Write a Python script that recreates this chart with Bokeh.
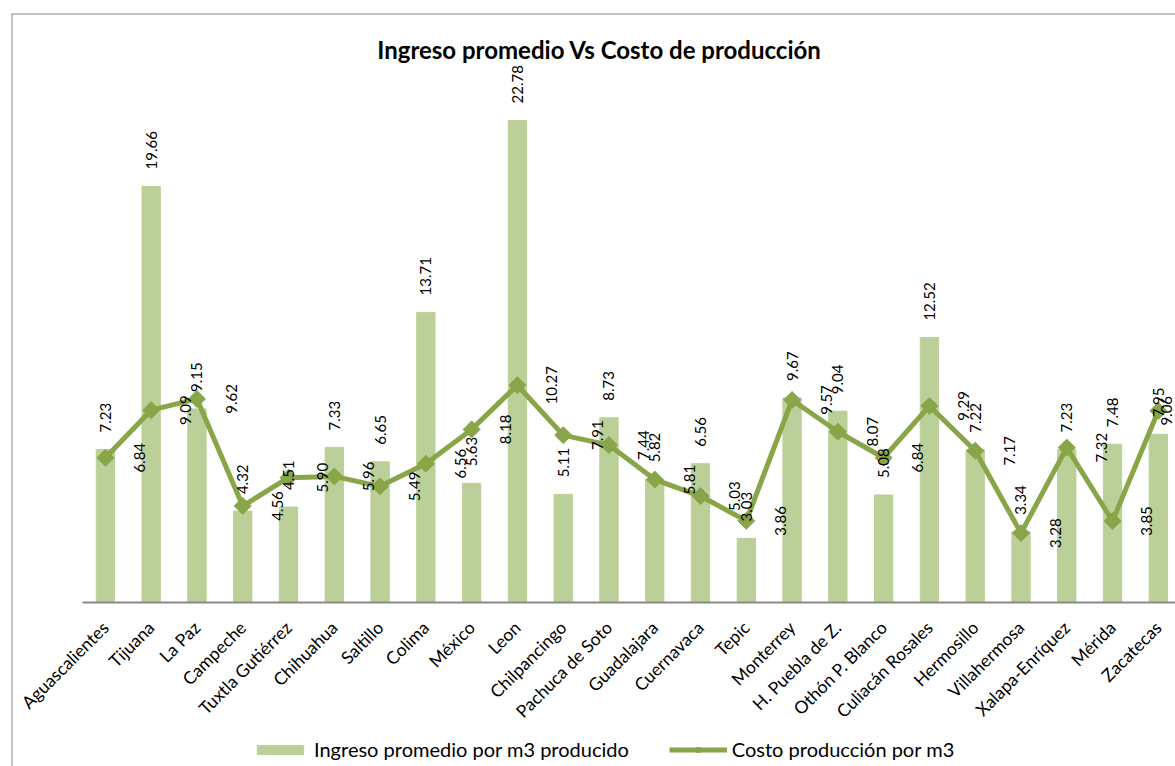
import math
from bokeh.plotting import figure
from bokeh.models import Range1d, Span, Label, Legend, LegendItem, ColumnDataSource
from bokeh.core.properties import value
from bokeh.embed import file_html
from bokeh.resources import INLINE

categories = ["Aguascalientes", "Tijuana", "La Paz", "Campeche", "Tuxtla Gutiérrez",
              "Chihuahua", "Saltillo", "Colima", "México", "Leon", "Chilpancingo",
              "Pachuca de Soto", "Guadalajara", "Cuernavaca", "Tepic", "Monterrey",
              "H. Puebla de Z.", "Othón P. Blanco", "Culiacán Rosales", "Hermosillo",
              "Villahermosa", "Xalapa-Enríquez", "Mérida", "Zacatecas"]
ingreso = [7.23, 19.66, 9.15, 4.32, 4.51, 7.33, 6.65, 13.71, 5.63, 22.78, 5.11, 8.73,
           5.82, 6.56, 3.03, 9.67, 9.04, 5.08, 12.52, 7.22, 3.34, 7.23, 7.48, 7.95]
costo = [6.84, 9.09, 9.62, 4.56, 5.90, 5.96, 5.49, 6.56, 8.18, 10.27, 7.91, 7.44,
         5.81, 5.03, 3.86, 9.57, 8.07, 6.84, 9.29, 7.17, 3.28, 7.32, 3.85, 9.06]

title_text = "Ingreso promedio Vs Costo de producción"
serie_barras = "Ingreso promedio por m3 producido"
serie_linea = "Costo producción por m3"

# ---- layout constants (page pixels; the page renders the figure at 0,0) ----
W, H = 1175, 766
PAGE_OFF = 0
FRAME_L, FRAME_T = 11, 13          # page coords of frame top-left
FRAME_R, FRAME_B = PAGE_OFF + W, PAGE_OFF + H
CAT_PX = 45.78                      # pixels per category
X0_PAGE = 82                        # page x where the first category starts
BASE_PAGE = 602                     # page y of the baseline (value 0)
UNIT_PX = 21.16                     # pixels per value unit

BAR_COLOR = "#BBD098"
LINE_COLOR = "#88A548"
BORDER = "#878787"
FONT_NAME = "Lato"
FONT = value(FONT_NAME)

def dx(page_x):
    return (page_x - X0_PAGE) / CAT_PX

def dy(page_y):
    return (BASE_PAGE - page_y) / UNIT_PX

x_range = Range1d(dx(FRAME_L), dx(FRAME_R))
y_range = Range1d(dy(FRAME_B), dy(FRAME_T))

p = figure(width=W, height=H, x_range=x_range, y_range=y_range,
           x_axis_location=None, y_axis_location=None,
           toolbar_location=None, output_backend="svg",
           min_border_left=FRAME_L - PAGE_OFF, min_border_top=FRAME_T - PAGE_OFF,
           min_border_right=0, min_border_bottom=0)
p.title.visible = False
p.outline_line_color = None
p.background_fill_color = "white"
p.border_fill_color = "white"
p.xgrid.visible = False
p.ygrid.visible = False

n = len(categories)
xs = [i + 0.5 for i in range(n)]
label_x_max = x_range.end - 9 / CAT_PX
src = ColumnDataSource(dict(
    x=xs, cat=categories, ingreso=ingreso, costo=costo,
    ing_lbl=[f"{v:.2f}" for v in ingreso],
    cos_lbl=[f"{v:.2f}" for v in costo],
    cos_x=[min(x + 0.75, label_x_max) for x in xs],
    zero=[0] * n,
))

# frame borders (left and top)
p.add_layout(Span(location=x_range.start, dimension="height", line_color=BORDER, line_width=2))
p.add_layout(Span(location=y_range.end, dimension="width", line_color=BORDER, line_width=2))

# bars
bars = p.vbar(x="x", top="ingreso", width=0.4, source=src,
              fill_color=BAR_COLOR, line_color=BAR_COLOR)

# baseline (category axis line)
p.segment(x0=0, y0=0, x1=n, y1=0, line_color="#898989", line_width=2)

# cost line with diamond markers
line = p.line(x="x", y="costo", source=src, line_color=LINE_COLOR, line_width=5)
dots = p.scatter(x="x", y="costo", source=src, marker="square", angle=math.pi / 4,
                 size=12, fill_color=LINE_COLOR, line_color=LINE_COLOR)

# data labels
p.text(x="x", y="ingreso", text="ing_lbl", source=src, angle=math.pi / 2,
       text_align="left", text_baseline="middle", y_offset=-17,
       text_font=FONT, text_font_size="15px", text_color="black")
p.text(x="cos_x", y="costo", text="cos_lbl", source=src, angle=math.pi / 2,
       text_align="center", text_baseline="middle",
       text_font=FONT, text_font_size="15px", text_color="black")

# category labels
p.text(x="x", y="zero", text="cat", source=src, angle=math.pi / 4,
       text_align="right", text_baseline="middle", x_offset=0, y_offset=22,
       text_font=FONT, text_font_size="17.5px", text_color="black")

# title
p.add_layout(Label(x=dx(599), y=dy(49), text=title_text, text_align="center",
                   text_baseline="middle", text_font=FONT_NAME, text_font_style="bold",
                   text_font_size="24px", text_color="black"))

# legend
legend = Legend(items=[LegendItem(label=serie_barras, renderers=[bars]),
                       LegendItem(label=serie_linea, renderers=[line, dots])],
                orientation="horizontal", location=(240, 5),
                glyph_width=58, glyph_height=11, label_standoff=5, spacing=40,
                padding=0, margin=0, border_line_color=None,
                background_fill_alpha=0,
                label_text_font=FONT_NAME, label_text_font_size="20px",
                label_text_color="black")
p.add_layout(legend)

open("out.html", "w").write(file_html(p, INLINE))
